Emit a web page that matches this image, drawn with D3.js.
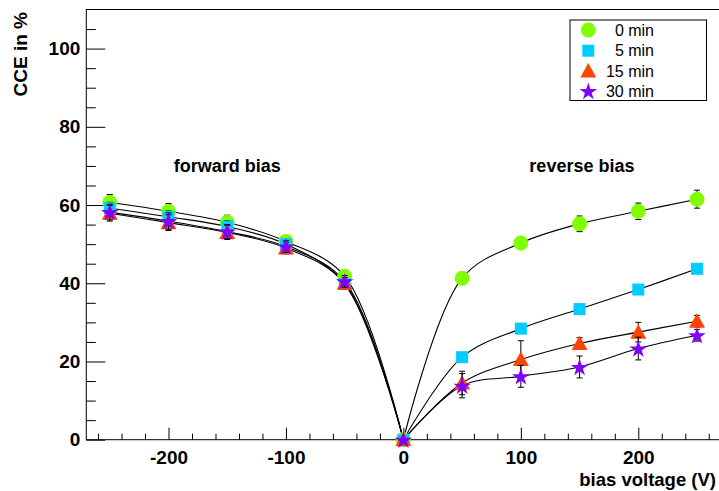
<!DOCTYPE html>
<html>
<head>
<meta charset="utf-8">
<script src="https://cdn.jsdelivr.net/npm/d3@7"></script>
<style>
  html, body { margin: 0; padding: 0; background: #fff; }
  svg { display: block; }
  text { font-family: "Liberation Sans", Arial, Helvetica, sans-serif; }
</style>
</head>
<body>
<div id="chart"></div>
<script>
// ---- data ----
const voltages = [-250, -200, -150, -100, -50, 0, 50, 100, 150, 200, 250];
const seriesNames = ["0 min", "5 min", "15 min", "30 min"];
const cce0  = [60.7, 58.4, 55.6, 50.7, 41.8, 0, 41.3, 50.3, 55.2, 58.4, 61.5];
const err0  = [2.0, 2.0, 1.8, 1.5, 1.5, 0, 1.5, 1.5, 2.0, 2.1, 2.3];
const cce5  = [59.2, 57.0, 54.5, 50.0, 39.8, 0, 21.1, 28.4, 33.4, 38.4, 43.7];
const err5  = [1.5, 1.5, 1.5, 1.2, 1.2, 0, 1.0, 1.0, 1.0, 1.0, 1.0];
const cce15 = [57.9, 55.5, 53.0, 49.0, 40.0, 0, 14.5, 20.5, 24.6, 27.5, 30.3];
const err15 = [2.0, 2.0, 1.8, 1.5, 1.5, 0, 3.0, 4.8, 1.5, 2.5, 1.5];
const cce30 = [58.2, 55.9, 53.2, 49.4, 40.5, 0, 13.8, 16.2, 18.6, 23.3, 26.7];
const err30 = [2.0, 2.1, 1.8, 1.5, 1.5, 0, 3.1, 2.8, 2.8, 2.9, 1.5];
const xMajorTicks = [-200, -100, 0, 100, 200];
const yMajorTicks = [0, 20, 40, 60, 80, 100];
const annotations = [
  { text: "forward bias", x: -150 },
  { text: "reverse bias", x: 152 }
];

// ---- layout ----
const W = 719, H = 491;
const x = d3.scaleLinear().domain([-270, 270]).range([86.3, 720.5]);
const y = d3.scaleLinear().domain([0, 110]).range([439.7, 9.5]);

const colors = ["#80ff00", "#00ccff", "#ff4400", "#7f00ff"];
const values = [cce0, cce5, cce15, cce30];
const errors = [err0, err5, err15, err30];
const markerTypes = ["circle", "square", "triangle", "star"];

const svg = d3.select("#chart").append("svg").attr("width", W).attr("height", H);
svg.append("rect").attr("width", W).attr("height", H).attr("fill", "#fff");

// frame
svg.append("rect")
  .attr("x", x.range()[0]).attr("y", y.range()[1])
  .attr("width", x.range()[1] - x.range()[0])
  .attr("height", y.range()[0] - y.range()[1])
  .attr("fill", "none").attr("stroke", "#000").attr("stroke-width", 1);

// x axis
const xMinor = d3.range(-260, 261, 20).filter(v => v % 100 !== 0);
const gx = svg.append("g").attr("transform", `translate(0,${y(0)})`);
gx.call(d3.axisBottom(x).tickValues(xMinor).tickSize(-6).tickFormat(""))
  .call(g => g.select(".domain").remove());
gx.append("g").call(d3.axisBottom(x).tickValues(xMajorTicks).tickSize(-12).tickPadding(11)
    .tickFormat(d => d3.format("d")(d).replace("−", "-")))
  .call(g => g.select(".domain").remove())
  .call(g => g.selectAll("text").attr("font-size", 19).attr("font-weight", "bold")
     .attr("fill", "#000").attr("dy", "0.71em").attr("y", 11));
gx.selectAll("line").attr("stroke", "#000");

// y axis
const yMinor = d3.range(5, 110, 5).filter(v => v % 20 !== 0);
const gy = svg.append("g").attr("transform", `translate(${x(-270)},0)`);
gy.call(d3.axisLeft(y).tickValues(yMinor).tickSize(-9.5).tickFormat(""))
  .call(g => g.select(".domain").remove());
gy.append("g").call(d3.axisLeft(y).tickValues(yMajorTicks).tickSize(-19).tickPadding(6).tickFormat(d3.format("d")))
  .call(g => g.select(".domain").remove())
  .call(g => g.selectAll("text").attr("font-size", 19).attr("font-weight", "bold")
     .attr("fill", "#000").attr("x", -6));
gy.selectAll("line").attr("stroke", "#000");

// axis titles
svg.append("text").attr("x", 716).attr("y", 486).attr("text-anchor", "end")
  .attr("font-size", 18.5).attr("font-weight", "bold").text("bias voltage (V)");
svg.append("text").attr("transform", "translate(27,12) rotate(-90)").attr("text-anchor", "end")
  .attr("font-size", 19).attr("font-weight", "bold").text("CCE in %");

// annotations
annotations.forEach(a => {
  svg.append("text").attr("x", x(a.x)).attr("y", 172).attr("text-anchor", "middle")
    .attr("font-size", 18).attr("font-weight", "bold").text(a.text);
});

// marker drawing
function drawMarker(g, type, color, cx, cy) {
  if (type === "circle") {
    g.append("circle").attr("cx", cx).attr("cy", cy).attr("r", 7.5).attr("fill", color);
  } else if (type === "square") {
    g.append("rect").attr("x", cx - 6).attr("y", cy - 6).attr("width", 12).attr("height", 12).attr("fill", color);
  } else if (type === "triangle") {
    g.append("path").attr("d", `M${cx},${cy - 8}L${cx + 8},${cy + 6.5}L${cx - 8},${cy + 6.5}Z`).attr("fill", color);
  } else {
    g.append("path").attr("transform", `translate(${cx},${cy + 0.8})`)
      .attr("d", d3.symbol(d3.symbolStar, 95)()).attr("fill", color);
  }
}

// curves: forward branch and reverse branch meet at 0 V
const line = d3.line().x(d => x(d[0])).y(d => y(d[1])).curve(d3.curveCatmullRom.alpha(0.5));
values.forEach(vals => {
  const pts = voltages.map((v, i) => [v, vals[i]]);
  const left = pts.filter(p => p[0] <= 0);
  const right = pts.filter(p => p[0] >= 0);
  [left, right].forEach(branch => {
    svg.append("path").attr("d", line(branch))
      .attr("fill", "none").attr("stroke", "#000").attr("stroke-width", 1.1);
  });
});

// error bars and markers
values.forEach((vals, s) => {
  const g = svg.append("g");
  voltages.forEach((v, i) => {
    const e = errors[s][i];
    if (e > 0) {
      const cx = x(v), y1 = y(vals[i] - e), y2 = y(vals[i] + e);
      g.append("line").attr("x1", cx).attr("x2", cx).attr("y1", y1).attr("y2", y2).attr("stroke", "#000");
      g.append("line").attr("x1", cx - 3).attr("x2", cx + 3).attr("y1", y1).attr("y2", y1).attr("stroke", "#000");
      g.append("line").attr("x1", cx - 3).attr("x2", cx + 3).attr("y1", y2).attr("y2", y2).attr("stroke", "#000");
    }
  });
  voltages.forEach((v, i) => drawMarker(g, markerTypes[s], colors[s], x(v), y(vals[i])));
});

// legend
const lg = svg.append("g");
lg.append("rect").attr("x", 570).attr("y", 20).attr("width", 136.5).attr("height", 80.5)
  .attr("fill", "#fff").attr("stroke", "#000").attr("stroke-width", 1);
const rowY = [30, 50.7, 71, 91];
seriesNames.forEach((n, s) => {
  drawMarker(lg, markerTypes[s], colors[s], 588.3, rowY[s]);
  lg.append("text").attr("x", 654).attr("y", rowY[s]).attr("dy", "0.36em")
    .attr("text-anchor", "end").attr("font-size", 16).text(n);
});
</script>
</body>
</html>
